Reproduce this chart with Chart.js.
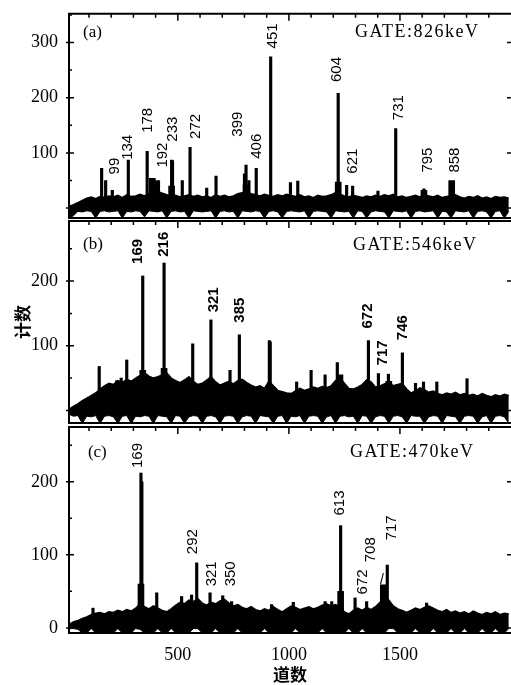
<!DOCTYPE html>
<html>
<head>
<meta charset="utf-8">
<script src="https://cdn.jsdelivr.net/npm/chart.js@4/dist/chart.umd.min.js"></script>
<style>
body{margin:0;background:#fff}
#wrap{position:relative;width:511px;height:685px}
canvas{position:absolute;left:0;top:0}
</style>
</head>
<body>
<div id="wrap">
<canvas id="ca" width="511" height="685"></canvas>
<canvas id="cb" width="511" height="685"></canvas>
<canvas id="cc" width="511" height="685"></canvas>
</div>
<script>
// channel axis
const xTicks = [500, 1000, 1500];
const bgStart = 10, bgStep = 20;   // background counts read every 20 channels

// (a) GATE 826 keV
const bgA = [3,6,10,14,18,20,17,21,19,22,
  20,23,19,24,21,22,25,22,26,28,
  30,27,24,21,23,20,22,24,21,23,
  20,22,19,24,21,23,20,22,26,28,
  30,26,24,22,25,23,21,24,22,25,
  23,21,24,20,22,19,23,21,22,24,
  28,25,22,20,23,21,19,22,20,23,
  21,24,22,25,20,22,19,21,23,20,
  24,22,20,23,19,21,22,24,20,18,
  21,19,22,18,20,17,21,19,20,18];
const lowA = [-18,-14,-6,-7,-5,-6,-18,-6,-5,-7,
  -6,-5,-18,-6,-7,-5,-6,-16,-5,-6,
  -7,-5,-18,-6,-5,-7,-6,-18,-5,-6,
  -7,-6,-5,-18,-6,-5,-7,-6,-18,-5,
  -6,-7,-5,-6,-18,-6,-5,-7,-18,-6,
  -5,-6,-7,-5,-18,-6,-5,-6,-7,-18,
  -5,-6,-7,-6,-18,-5,-6,-18,-7,-5,
  -6,-7,-18,-5,-6,-7,-5,-18,-6,-5,
  -7,-6,-5,-18,-6,-7,-18,-5,-6,-7,
  -5,-18,-6,-5,-7,-18,-6,-5,-18,-6];
const peakChanA = [157,175,205,277,362,472,476,520,555,630,672,800,807,820,853,918,1007,1040,1222,1260,1287,1401,1481,1608];
const peakCntA  = [72,50,32,87,103,87,86,50,110,36,58,62,78,50,72,274,46,49,208,41,40,31,144,35];
const bumpChanA = [385,405,1222,1733,807,472,1608];
const bumpCntA  = [54,50,47,50,42,40,32];
const labA = ['99','134','178','192','233','272','399','406','451','604','621','731','795','858'];
const labChanA = [217,276,364,432,478,582,770,855,928,1218,1287,1493,1625,1748];
const labCntA  = [76,110,159,96,143,148,152,112,312,251,85,182,87,87];
const noteA = ['(a)','GATE:826keV'];
const noteChanA = [73,1298];
const noteCntA = [318,318];
const yTicksA = [100,200,300];

// (b) GATE 546 keV
const bgB = [2,6,10,15,19,23,27,33,38,42,
  40,46,43,48,45,50,54,58,53,50,
  52,55,58,50,46,43,47,52,45,40,
  42,47,52,44,39,42,45,41,46,48,
  43,39,36,38,34,45,38,31,29,27,
  26,30,34,31,33,36,34,37,35,38,
  46,50,42,34,33,36,40,47,44,36,
  38,41,44,38,40,42,33,27,30,35,
  32,28,30,26,24,27,25,28,24,26,
  23,25,22,26,23,21,24,22,25,23];
const lowB = [-6,-9,-8,-20,-9,-10,-8,-20,-9,-8,
  -10,-20,-9,-8,-20,-9,-10,-8,-9,-20,
  -8,-9,-10,-20,-8,-9,-20,-10,-8,-9,
  -20,-9,-8,-10,-20,-9,-8,-9,-20,-10,
  -8,-9,-20,-8,-9,-10,-20,-9,-8,-20,
  -9,-10,-8,-20,-9,-8,-9,-20,-10,-8,
  -20,-9,-8,-10,-9,-20,-8,-9,-20,-10,
  -8,-9,-20,-9,-8,-10,-20,-8,-9,-9,
  -20,-10,-8,-9,-20,-8,-9,-10,-20,-9,
  -8,-9,-20,-10,-8,-20,-9,-8,-10,-20];
const peakChanB = [146,225,245,270,342,438,567,649,735,777,912,916,1035,1100,1163,1218,1358,1403,1448,1511,1570,1606,1666,1802];
const peakCntB  = [68,46,50,78,208,228,103,140,62,117,108,106,44,62,55,74,108,57,56,89,42,44,44,49];
const bumpChanB = [1230,1450,342,438];
const bumpCntB  = [55,45,62,65];
const labB = ['169','216','321','385','672','717','746'];
const labChanB = [322,438,660,780,1355,1425,1511];
const labCntB  = [246,257,171,155,146,89,128];
const noteB = ['(b)','GATE:546keV'];
const noteChanB = [73,1289];
const noteCntB = [257,256];
const yTicksB = [100,200];

// (c) GATE 470 keV
const bgC = [5,8,10,13,15,18,20,21,19,22,
  21,24,22,25,23,27,33,29,26,30,
  27,24,22,26,31,35,33,38,36,40,
  34,31,35,33,37,39,34,30,32,28,
  26,29,25,23,26,24,29,25,22,26,
  30,28,25,27,29,26,28,31,33,30,
  32,28,22,19,24,27,24,28,25,29,
  35,40,38,30,26,24,21,24,27,25,
  28,30,27,24,22,25,21,23,20,22,
  19,23,20,18,21,19,22,18,20,19];
const lowC = [-1,-1,-2,-7,-7,-1,-7,-7,-7,-7,
  -7,-1,-7,-7,-7,-1,-2,-7,-7,-7,
  -1,-7,-7,-1,-7,-7,-7,-7,-1,-1,
  -7,-7,-7,-1,-7,-7,-7,-7,-1,-7,
  -7,-7,-7,-7,-1,-7,-7,-7,-7,-7,
  -7,-1,-7,-7,-7,-7,-7,-1,-7,-7,
  -7,-7,-7,-1,-7,-7,-1,-7,-7,-7,
  -7,-7,-1,-1,-7,-7,-7,-7,-1,-7,
  -7,-7,-1,-7,-7,-7,-1,-7,-7,-1,
  -7,-7,-7,-1,-7,-7,-1,-7,-7,-1];
const peakChanC = [118,334,338,405,517,562,585,645,702,742,922,1020,1163,1193,1233,1298,1350,1443,1620];
const peakCntC  = [27,212,200,48,43,45,89,48,44,36,32,35,36,36,140,41,36,86,34];
const bumpChanC = [1425,334,1233];
const bumpCntC  = [59,60,50];
const labC = ['169','292','321','350','613','672','708','717'];
const labChanC = [322,567,652,738,1230,1335,1368,1463];
const labCntC  = [236,118,74,74,171,63,107,137];
const noteC = ['(c)','GATE:470keV','/'];
const noteChanC = [95,1275,1410];
const noteCntC = [240,241,65];
const yTicksC = [0,100,200];

function binPts(vals) {
  return vals.map((v, i) => ({x: bgStart + i * bgStep, y: v}));
}
function pts(chans, cnts) {
  return chans.map((c, i) => ({x: c, y: cnts[i]}));
}

const serif = 'Liberation Serif';

//frame and inward tick marks
const framePlugin = {
  id: 'frame',
  afterDatasetsDraw(chart) {
    const {ctx, chartArea: a, scales: {x, y}} = chart;
    ctx.save();
    ctx.strokeStyle = '#000';
    ctx.lineWidth = 2;
    ctx.beginPath();
    ctx.moveTo(a.right, a.top);
    ctx.lineTo(a.left, a.top);
    ctx.lineTo(a.left, a.bottom);
    ctx.lineTo(a.right, a.bottom);
    ctx.stroke();
    ctx.lineWidth = 1.5;
    ctx.beginPath();
    for (let v = Math.ceil(y.min / 50) * 50; v <= y.max; v += 50) {
      const py = y.getPixelForValue(v);
      const major = v % 100 === 0;
      ctx.moveTo(a.left - (major ? 3 : 0), py);
      ctx.lineTo(a.left + (major ? 5 : 3), py);
      if (major) {
        ctx.moveTo(a.right - 4, py);
        ctx.lineTo(a.right, py);
      }
    }
    for (let c = 100; c < x.max; c += 100) {
      const px = x.getPixelForValue(c);
      ctx.moveTo(px, a.top);
      ctx.lineTo(px, a.top + (c % 500 === 0 ? 7 : 4));
    }
    ctx.stroke();
    ctx.restore();
  }
};

function labelPlugin(p) {
  return {
    id: 'labels' + p.name,
    afterDatasetsDraw(chart) {
      const {ctx, scales: {x, y}} = chart;
      ctx.save();
      ctx.fillStyle = '#000';
      ctx.font = p.labFont;
      ctx.textAlign = 'center';
      ctx.textBaseline = 'middle';
      p.lab.forEach((t, i) => {
        ctx.save();
        ctx.translate(x.getPixelForValue(p.labChan[i]), y.getPixelForValue(p.labCnt[i]));
        ctx.rotate(-Math.PI / 2);
        ctx.fillText(t, 0, 0);
        ctx.restore();
      });
      ctx.textAlign = 'left';
      p.note.forEach((t, i) => {
        ctx.font = p.noteFonts[i];
        ctx.letterSpacing = i === 1 ? '1.5px' : '0px';
        ctx.fillText(t, x.getPixelForValue(p.noteChan[i]), y.getPixelForValue(p.noteCnt[i]));
      });
      ctx.restore();
    }
  };
}

function makePanel(id, p) {
  const ticksFont = {family: serif, size: 18};
  return new Chart(document.getElementById(id), {
    type: 'line',
    data: {
      datasets: [
        {data: binPts(p.bg), fill: '+1', backgroundColor: '#000', borderColor: '#000', borderWidth: 1.5, pointRadius: 0, tension: 0},
        {data: binPts(p.low), fill: false, borderColor: '#000', borderWidth: 1, pointRadius: 0, tension: 0},
        {type: 'bar', data: pts(p.peakChan, p.peakCnt), backgroundColor: '#000', barThickness: 2.5, grouped: false},
        {type: 'bar', data: pts(p.bumpChan, p.bumpCnt), backgroundColor: '#000', barThickness: 6, grouped: false}
      ]
    },
    options: {
      responsive: false,
      animation: false,
      layout: {padding: {top: p.top, bottom: p.bottom, left: 0, right: 0}},
      plugins: {legend: {display: false}, tooltip: {enabled: false}},
      scales: {
        x: {
          type: 'linear', min: 10, max: 2000, offset: false,
          display: p.showX,
          grid: {display: false}, border: {display: false},
          afterBuildTicks: s => { s.ticks = xTicks.map(v => ({value: v})); },
          afterFit: s => { if (p.showX) s.height = 52; },
          ticks: {font: ticksFont, color: '#000', padding: 3, maxRotation: 0, callback: v => String(v)},
          title: {display: true, text: '道数', color: '#000', font: {family: 'Noto Sans CJK SC', size: 17, weight: 'bold'}, padding: {top: 0, bottom: 0}}
        },
        y: {
          min: p.ymin, max: p.ymax,
          grid: {display: false}, border: {display: false},
          afterBuildTicks: s => { s.ticks = p.yTicks.map(v => ({value: v})); },
          afterFit: s => { s.width = 69; },
          ticks: {font: ticksFont, color: '#000', padding: 3, callback: v => String(v)},
          title: {display: p.showYTitle, text: '计数', color: '#000', font: {family: 'Noto Sans CJK SC', size: 17, weight: 'bold'}, padding: {top: 12, bottom: 0}}
        }
      }
    },
    plugins: [framePlugin, labelPlugin(p)]
  });
}

const labFont = '15px "Liberation Sans"';
const noteFonts = ['17px "Liberation Serif"', '18px "Liberation Serif"', '14px "Liberation Sans"'];

makePanel('ca', {name: 'a', bg: bgA, low: lowA, peakChan: peakChanA, peakCnt: peakCntA, bumpChan: bumpChanA, bumpCnt: bumpCntA,
  lab: labA, labChan: labChanA, labCnt: labCntA, note: noteA, noteChan: noteChanA, noteCnt: noteCntA,
  yTicks: yTicksA, ymin: -18, ymax: 352, top: 13, bottom: 467, showX: false, showYTitle: false,
  labFont: labFont, noteFonts: noteFonts});
makePanel('cb', {name: 'b', bg: bgB, low: lowB, peakChan: peakChanB, peakCnt: peakCntB, bumpChan: bumpChanB, bumpCnt: bumpCntB,
  lab: labB, labChan: labChanB, labCnt: labCntB, note: noteB, noteChan: noteChanB, noteCnt: noteCntB,
  yTicks: yTicksB, ymin: -19.5, ymax: 293, top: 221, bottom: 262, showX: false, showYTitle: true,
  labFont: 'bold 15px "Liberation Sans"', noteFonts: noteFonts});
makePanel('cc', {name: 'c', bg: bgC, low: lowC, peakChan: peakChanC, peakCnt: peakCntC, bumpChan: bumpChanC, bumpCnt: bumpCntC,
  lab: labC, labChan: labChanC, labCnt: labCntC, note: noteC, noteChan: noteChanC, noteCnt: noteCntC,
  yTicks: yTicksC, ymin: -7, ymax: 275, top: 427, bottom: 0, showX: true, showYTitle: false,
  labFont: labFont, noteFonts: noteFonts});
</script>
</body>
</html>
